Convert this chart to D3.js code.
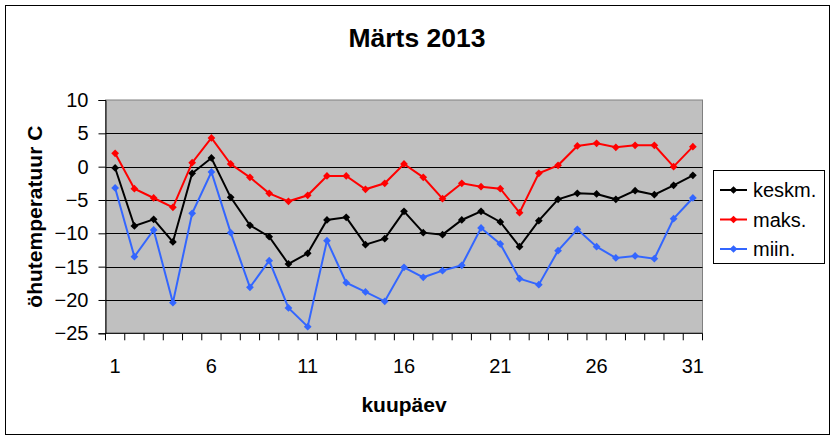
<!DOCTYPE html>
<html>
<head>
<meta charset="utf-8">
<script src="https://cdn.jsdelivr.net/npm/d3@7"></script>
<style>
  body { margin: 0; background: #fff; }
  svg { display: block; font-family: Arial, "Liberation Sans", sans-serif; }
</style>
</head>
<body>
<div id="chart"></div>
<script>
// päevad 1..31
var days = d3.range(1, 32);
var keskm = [-0.2, -8.9, -7.9, -11.3, -1.0, 1.3, -4.6, -8.8, -10.5, -14.6, -13.0, -8.0, -7.6, -11.7, -10.8, -6.7,
             -9.9, -10.2, -8.0, -6.7, -8.3, -12.0, -8.1, -4.9, -4.0, -4.1, -4.9, -3.6, -4.2, -2.8, -1.3];
var maks = [2.0, -3.3, -4.7, -6.1, 0.6, 4.3, 0.4, -1.6, -4.0, -5.2, -4.3, -1.4, -1.4, -3.4, -2.5, 0.4,
            -1.6, -4.8, -2.5, -3.0, -3.3, -6.9, -1.0, 0.2, 3.1, 3.5, 2.9, 3.2, 3.2, 0.0, 3.0];
var miin = [-3.2, -13.5, -9.5, -20.4, -7.0, -0.8, -9.9, -18.1, -14.1, -21.2, -24.0, -11.1, -17.4, -18.8, -20.2, -15.1,
            -16.6, -15.6, -14.8, -9.2, -11.6, -16.8, -17.7, -12.6, -9.4, -12.0, -13.7, -13.4, -13.8, -7.8, -4.7];
var yTicks = [10, 5, 0, -5, -10, -15, -20, -25];
var xLabels = [1, 6, 11, 16, 21, 26, 31];

var series = [
  { name: 'keskm.', values: keskm, color: '#000000' },
  { name: 'maks.', values: maks, color: '#ff0000' },
  { name: 'miin.', values: miin, color: '#3366ff' }
];

var width = 835, height = 439;
var plot = { left: 105.5, right: 702.5, top: 100, bottom: 333.3 };

var svg = d3.select('#chart').append('svg')
  .attr('width', width)
  .attr('height', height);

// välimine raam
svg.append('rect')
  .attr('x', 5.5).attr('y', 5.5)
  .attr('width', 824).attr('height', 429)
  .attr('fill', '#fff')
  .attr('stroke', '#000')
  .attr('stroke-width', 1);

var x = d3.scaleBand()
  .domain(days)
  .range([plot.left, plot.right]);

var y = d3.scaleLinear()
  .domain([-25, 10])
  .range([plot.bottom, plot.top]);

// hall taust
svg.append('rect')
  .attr('x', plot.left).attr('y', plot.top)
  .attr('width', plot.right - plot.left)
  .attr('height', plot.bottom - plot.top)
  .attr('fill', '#c0c0c0')
  .attr('stroke', '#808080')
  .attr('stroke-width', 1);

// ruudustik
svg.append('g')
  .selectAll('line')
  .data(yTicks.filter(function(d) { return d > -25 && d < 10; }))
  .enter().append('line')
  .attr('x1', plot.left).attr('x2', plot.right)
  .attr('y1', function(d) { return Math.round(y(d)) + 0.5; })
  .attr('y2', function(d) { return Math.round(y(d)) + 0.5; })
  .attr('stroke', '#000')
  .attr('stroke-width', 1);

// y telg
var yAxis = svg.append('g')
  .attr('transform', 'translate(' + plot.left + ',0)')
  .call(d3.axisLeft(y).tickValues(yTicks).tickSize(7).tickPadding(10));
yAxis.select('.domain').attr('stroke', '#000');
yAxis.selectAll('text')
  .attr('font-size', 20)
  .attr('fill', '#000')
  .attr('font-family', 'Arial, "Liberation Sans", sans-serif');

// x telg
var xAxis = svg.append('g')
  .attr('transform', 'translate(0,' + plot.bottom + ')');
xAxis.append('line')
  .attr('x1', plot.left).attr('x2', plot.right)
  .attr('y1', 0).attr('y2', 0)
  .attr('stroke', '#000');
xAxis.selectAll('line.tick')
  .data(days.concat([32]))
  .enter().append('line')
  .attr('class', 'tick')
  .attr('x1', function(d) { return d <= 31 ? x(d) : plot.right; })
  .attr('x2', function(d) { return d <= 31 ? x(d) : plot.right; })
  .attr('y1', 0).attr('y2', 7)
  .attr('stroke', '#000');
xAxis.selectAll('text')
  .data(xLabels)
  .enter().append('text')
  .attr('x', function(d) { return x(d) + x.bandwidth() / 2; })
  .attr('y', 40)
  .attr('text-anchor', 'middle')
  .attr('font-size', 20)
  .text(function(d) { return d; });

// jooned ja markerid
var line = d3.line()
  .x(function(d, i) { return x(days[i]) + x.bandwidth() / 2; })
  .y(function(d) { return y(d); });

var diamond = d3.symbol().type(d3.symbolSquare).size(30);

series.forEach(function(s) {
  svg.append('path')
    .datum(s.values)
    .attr('d', line)
    .attr('fill', 'none')
    .attr('stroke', s.color)
    .attr('stroke-width', 2);
  svg.append('g')
    .selectAll('path')
    .data(s.values)
    .enter().append('path')
    .attr('d', diamond)
    .attr('transform', function(d, i) {
      return 'translate(' + (x(days[i]) + x.bandwidth() / 2) + ',' + y(d) + ') rotate(45)';
    })
    .attr('fill', s.color);
});

// pealkiri
svg.append('text')
  .attr('x', 417)
  .attr('y', 47)
  .attr('text-anchor', 'middle')
  .attr('font-size', 26.5)
  .attr('font-weight', 'bold')
  .text('Märts 2013');

svg.append('text')
  .attr('x', (plot.left + plot.right) / 2)
  .attr('y', 412)
  .attr('text-anchor', 'middle')
  .attr('font-size', 21)
  .attr('font-weight', 'bold')
  .text('kuupäev');

svg.append('text')
  .attr('transform', 'translate(42,' + ((plot.top + plot.bottom) / 2) + ') rotate(-90)')
  .attr('text-anchor', 'middle')
  .attr('font-size', 21)
  .attr('font-weight', 'bold')
  .text('öhutemperatuur C');

// legend
var legend = svg.append('g');
legend.append('rect')
  .attr('x', 713.5).attr('y', 170.5)
  .attr('width', 111).attr('height', 93)
  .attr('fill', '#fff')
  .attr('stroke', '#000');

var item = legend.selectAll('g.item')
  .data(series)
  .enter().append('g')
  .attr('class', 'item')
  .attr('transform', function(d, i) { return 'translate(0,' + (190 + i * 29.5) + ')'; });
item.append('line')
  .attr('x1', 720).attr('x2', 747)
  .attr('stroke', function(d) { return d.color; })
  .attr('stroke-width', 2);
item.append('path')
  .attr('d', diamond)
  .attr('transform', 'translate(733.5,0) rotate(45)')
  .attr('fill', function(d) { return d.color; });
item.append('text')
  .attr('x', 753)
  .attr('y', 7)
  .attr('font-size', 20)
  .text(function(d) { return d.name; });
</script>
</body>
</html>
